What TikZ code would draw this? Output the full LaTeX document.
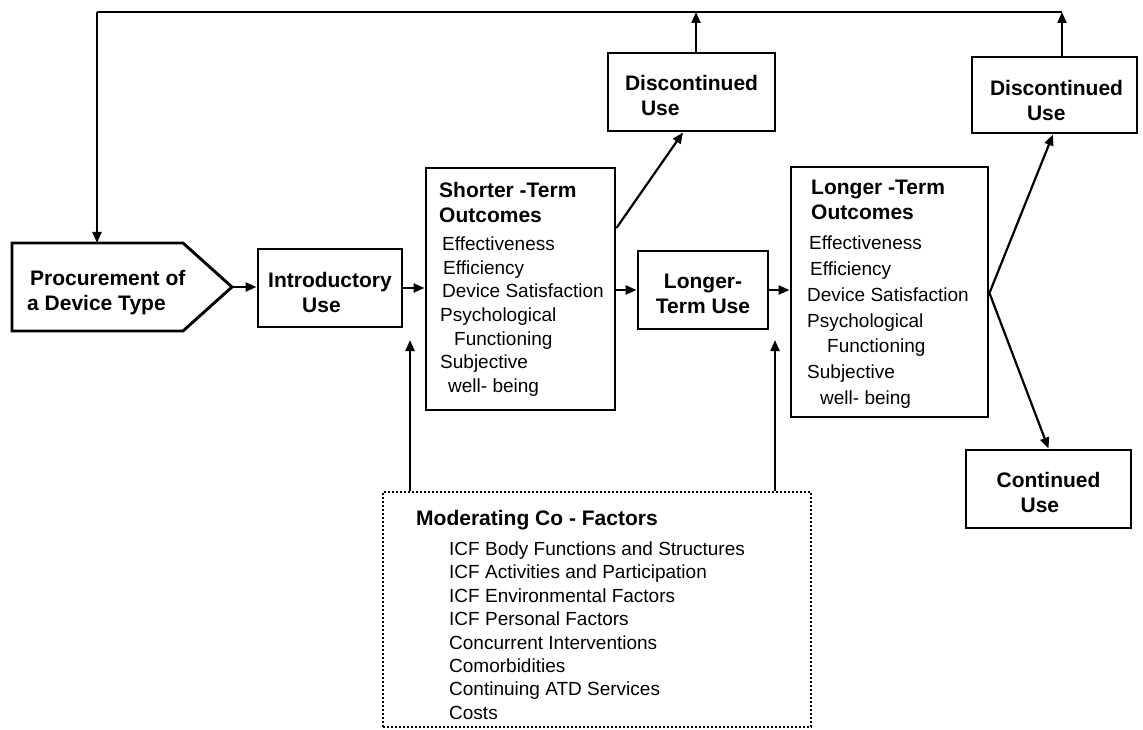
\documentclass[tikz,border=0pt]{standalone}
\usepackage{fontspec}
\setmainfont{Liberation Sans}
\usetikzlibrary{arrows.meta,calc}
\newcommand\ttlfont{\fontsize{21}{25}\selectfont\bfseries}
\begin{document}
\begin{tikzpicture}[x=1pt,y=-1pt,
  box/.style={draw, line width=2.9pt, rectangle, inner sep=0pt},
  dotbox/.style={draw, line width=2.4pt, dash pattern=on 2pt off 2pt, rectangle, inner sep=0pt},
  ttl/.style={font=\ttlfont},
  lbl/.style={ttl, inner sep=0pt, align=left},
  txt/.style={inner sep=0pt, align=left, anchor=north west},
  link/.style={line width=2.2pt},
  arr/.style={line width=2.2pt, -{Triangle[length=11pt,width=9pt]}},
]
\useasboundingbox (0,0) rectangle (1143,730);

% procurement (pointed box)
\coordinate (procNW) at (12,243);
\coordinate (procNE) at (183,243);
\coordinate (proctip) at (232,287);
\coordinate (procSE) at (183,331);
\coordinate (procSW) at (12,331);
\draw[line width=2.9pt, line join=miter] (procNW) -- (procNE) -- (proctip) -- (procSE) -- (procSW) -- cycle;
\node[txt, ttl] (proctext) at (27,270) {\hspace*{3pt}Procurement of\\a Device Type};

% stages of use
\node[box, minimum width=144pt, minimum height=78pt] (intro) at (330,288) {};
\node[lbl, yshift=-4pt] (introtext) at (intro) {Introductory\\\hspace*{34pt}Use};
\node[box, minimum width=130pt, minimum height=78pt] (ltu) at (703,290) {};
\node[lbl, align=center, yshift=-3.5pt] (ltutext) at (ltu) {Longer-\\Term Use};

% outcome boxes
\node[box, minimum width=189pt, minimum height=242pt] (so) at (520.5,289) {};
\node[txt, font=\fontsize{19}{23.7}\selectfont] (sotext) at (439,182)
  {{\ttlfont Shorter -Term}\\[1.3pt]
   {\ttlfont Outcomes}\\[4.3pt]
   \hspace*{3pt}Effectiveness\\
   \hspace*{4pt}Efficiency\\
   \hspace*{3pt}Device Satisfaction\\
   \hspace*{1pt}Psychological\\
   \hspace*{15pt}Functioning\\
   \hspace*{1pt}Subjective\\
   \hspace*{9pt}well- being};

\node[box, minimum width=197pt, minimum height=250pt] (lo) at (889.5,292) {};
\node[txt, font=\fontsize{19}{25.8}\selectfont] (lotext) at (807,180)
  {\hspace*{4pt}{\ttlfont Longer -Term}\\[-0.8pt]
   \hspace*{4pt}{\ttlfont Outcomes}\\[4.2pt]
   \hspace*{2pt}Effectiveness\\
   \hspace*{3pt}Efficiency\\
   Device Satisfaction\\
   Psychological\\
   \hspace*{20pt}Functioning\\
   Subjective\\
   \hspace*{13pt}well- being};

% end states
\node[box, minimum width=167pt, minimum height=78pt] (disc1) at (691.5,92) {};
\node[lbl, yshift=-3pt] (disc1text) at (disc1) {Discontinued\\\hspace*{16pt}Use};
\node[box, minimum width=165pt, minimum height=76pt] (disc2) at (1054.5,95) {};
\node[lbl, yshift=-5pt, xshift=2pt] (disc2text) at (disc2) {Discontinued\\\hspace*{37pt}Use};
\node[box, minimum width=165pt, minimum height=78pt] (cont) at (1048.5,489) {};
\node[lbl, yshift=-3pt] (conttext) at (cont) {Continued\\\hspace*{24pt}Use};

% moderating factors
\node[dotbox, minimum width=428pt, minimum height=235pt] (mod) at (597,609.5) {};
\node[txt, font=\fontsize{19}{23.4}\selectfont] (modtext) at (416,510)
  {{\ttlfont Moderating Co - Factors}\\[6.6pt]
   \hspace*{33pt}ICF Body Functions and Structures\\
   \hspace*{33pt}ICF Activities and Participation\\
   \hspace*{33pt}ICF Environmental Factors\\
   \hspace*{33pt}ICF Personal Factors\\
   \hspace*{33pt}Concurrent Interventions\\
   \hspace*{33pt}Comorbidities\\
   \hspace*{33pt}Continuing ATD Services\\
   \hspace*{33pt}Costs};

% main flow
\draw[arr] (proctip) -- (proctip -| intro.west);
\draw[arr] (intro.east) -- (intro.east -| so.west);
\draw[arr] (ltu.west -| so.east) -- (ltu.west);
\draw[arr] (ltu.east) -- (ltu.east -| lo.west);

% branches to end states
\draw[arr] (so.east |- 0,228) -- (disc1.south -| 683,0);
\coordinate (lofan) at (lo.east |- 0,293);
\draw[arr] (lofan) -- (disc2.south -| 1053,0);
\draw[arr] (lofan) -- (cont.north);

% feedback loop back to procurement
\coordinate (fbL) at (97,12);
\coordinate (fbM) at (696,12);
\coordinate (fbR) at (1062,12);
\draw[arr] (disc1.north -| fbM) -- (fbM);
\draw[arr] (disc2.north -| fbR) -- (fbR);
\draw[link] (fbR) -- (fbL);
\draw[arr] (fbL) -- (fbL |- procNW);

% moderating influences
\coordinate (m1) at (410,340);
\coordinate (m2) at (775,340);
\draw[arr] (mod.north -| m1) -- (m1);
\draw[arr] (mod.north -| m2) -- (m2);
\end{tikzpicture}
\end{document}
